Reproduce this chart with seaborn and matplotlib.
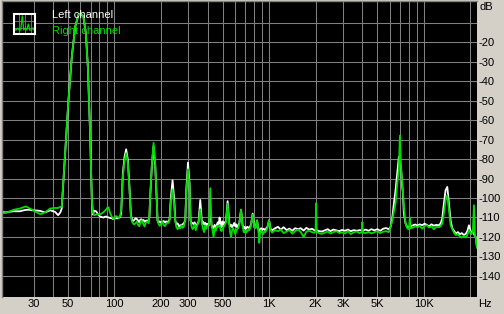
import matplotlib
matplotlib.use("Agg")
import matplotlib.pyplot as plt
import seaborn as sns
import pandas as pd
from matplotlib.ticker import FixedLocator, FixedFormatter, NullLocator
from matplotlib.patches import FancyBboxPatch

# ---------------- data ----------------
freqs = [
    18.75, 19.9, 21.1, 22.4, 24.5, 25.6, 26.8, 28.0, 29.3, 31.1, 33.0, 34.2, 35.6, 38.4, 41.3, 43.2, 44.6, 45.6,
    48.0, 50.4, 53.0, 55.7, 58.5, 60.5, 63.0, 65.3, 67.3, 69.6, 71.4, 72.5,
    74.0, 76.1, 78.5, 80.8, 82.8, 84.9, 86.8, 88.4, 90.0, 91.5, 93.5, 96.2, 98.0, 100, 102, 104.1, 106.5, 108.6, 110.5,
    113.3, 116.1, 119.0, 122.1, 125.0, 127.7,
    129.6, 132, 134.5, 137, 139.6, 142, 144.5, 146.7, 149, 151.5, 154.1, 156.5, 158.7, 162.8, 166,
    168.3, 170.2, 174.6, 178.9, 183.4, 188.1,
    189.8, 192, 196, 200, 204, 208, 212, 216, 220, 224, 227,
    231.7, 237.4, 243.5,
    247.2, 251, 256, 261, 266, 271, 276, 281,
    286.9, 291.2, 298.6, 305.8, 310.4,
    315, 320, 325, 330, 335, 340, 345, 349.8,
    358.6, 367.9,
    374, 380, 386, 392, 398, 403, 408.3,
    416.2, 424.4,
    430, 437, 444, 451, 458, 465, 472, 478, 485, 492, 499, 506, 514, 526,
    538.7, 552.5,
    560, 568, 576, 585, 594, 603, 612, 620, 630, 641,
    657.9, 673.8,
    684, 694, 704, 714, 724, 734, 744, 754, 763.7,
    781.9, 802, 818, 835.3, 851, 862, 874, 888, 902, 916, 930, 944, 958, 973.5, 998.6, 1022,
    1045, 1090, 1140, 1190, 1240, 1300, 1350, 1410, 1470, 1540, 1600, 1670, 1740, 1810, 1890, 1960, 1995, 2010, 2030,
    2100, 2190, 2290, 2390, 2490, 2600, 2720, 2840, 2960, 3090, 3230, 3370, 3520, 3680, 3840, 3970, 4000, 4030,
    4200, 4390, 4580, 4780, 5000, 5220, 5450, 5690, 5935,
    6087, 6245, 6396, 6560, 6729, 6892, 6996, 7143, 7250, 7315, 7425, 7614, 7809, 7997, 8118,
    8202, 8500, 8800, 9100, 9400, 9750, 10100, 10450, 10800, 11200, 11600, 12000, 12500, 12829,
    13152, 13470, 13815, 14170, 14513, 14885, 15266, 15700, 16100, 16600, 17100, 17600, 18100, 18600, 19100,
    19560, 20000, 20273, 20700, 21072, 21400, 21613, 22050,
]

left_db = [
    -107.2, -107.4, -107.0, -106.8, -106.8, -106.4, -106.1, -106.0, -106.3, -106.4, -106.6, -107.0, -107.4, -106.3, -107.1, -108.8, -107.5, -105.5,
    -77, -50, -27.5, -12.2, -6.0, -5.3, -7.0, -15.4, -32.7, -67, -101, -108.5,
    -106.5, -106.8, -108.5, -109.5, -109.8, -110.0, -109.6, -109.5, -109.8, -110.0, -110.2, -110.4, -110.8, -110.6, -110.3, -110.5, -110.2, -109.8, -108.0,
    -87.4, -79.0, -75.0, -80.6, -94.3, -108.5,
    -111.0, -111.8, -111.2, -110.4, -110.8, -111.6, -112.4, -111.2, -110.9, -111.6, -111.3, -112.2, -111.8, -111.5, -112.0,
    -109.5, -99.4, -83.0, -73.5, -83.5, -103.0,
    -111.5, -112.5, -112.0, -112.8, -112.2, -111.8, -112.6, -112.0, -112.4, -111.8, -111.0,
    -99.4, -90.9, -101.0,
    -111.5, -113.5, -113.0, -114.5, -114.0, -113.8, -113.5, -113.0,
    -111.5, -96.0, -81.8, -92.6, -111.5,
    -113.0, -112.8, -113.5, -112.5, -113.8, -114.2, -113.0, -112.0,
    -101.0, -113.0,
    -112.2, -113.5, -112.8, -114.0, -113.2, -113.5, -113.8,
    -106.5, -114.0,
    -114.5, -115.5, -113.8, -115.0, -114.0, -112.5, -113.5, -110.0, -112.8, -115.0, -112.0, -113.5, -112.6, -112.0,
    -101.6, -113.0,
    -114.5, -113.8, -115.0, -114.0, -112.8, -114.5, -113.5, -115.0, -114.0, -113.0,
    -106.0, -114.0,
    -115.5, -114.8, -116.0, -115.0, -114.8, -115.5, -115.0, -114.5, -113.5,
    -108.0, -115.0, -115.0, -111.5, -116.0, -117.5, -116.0, -115.5, -116.5, -115.8, -116.0, -116.8, -115.5, -115.0, -111.5, -116.0,
    -116.5, -115.6, -114.8, -116.2, -115.0, -116.5, -115.7, -116.8, -115.5, -116.0, -115.5, -116.7, -115.3, -116.2, -115.8, -116.5, -116.5, -116.3, -116.5,
    -117.0, -117.2, -116.6, -116.0, -117.0, -116.2, -116.6, -117.0, -116.4, -116.8, -116.2, -117.0, -116.5, -116.8, -116.5, -116.6, -116.8, -116.8,
    -116.2, -116.8, -116.0, -116.6, -116.0, -116.8, -115.8, -115.4, -116.0,
    -115.0, -110.5, -103.0, -96.0, -87.4, -78.9, -80.0, -86.0, -94.3, -97.0, -108.0, -113.0, -115.0, -114.8, -115.0,
    -114.5, -114.0, -113.6, -114.2, -113.5, -114.0, -113.2, -113.8, -114.5, -113.5, -114.2, -113.8, -114.0, -113.0,
    -110.5, -102.8, -96.0, -94.3, -102.8, -111.5, -115.6, -117.0, -118.2, -117.5, -118.6, -118.0, -119.0, -118.5, -117.0,
    -114.0, -116.5, -118.3, -117.5, -118.5, -119.5, -120.0, -125.2,
]

right_db = [
    -107.8, -107.6, -106.8, -106.0, -105.4, -104.8, -104.3, -105.2, -105.9, -107.2, -108.2, -108.0, -107.3, -105.4, -105.1, -105.1, -104.6, -104.5,
    -77, -50, -27.5, -12.2, -6.0, -5.3, -7.0, -15.4, -32.7, -67, -101, -107.5,
    -108.8, -108.5, -108.2, -108.5, -107.8, -107.3, -106.5, -105.8, -105.0, -104.8, -107.5, -109.7, -110.5, -110.8, -109.3, -109.5, -110.2, -109.5, -106.0,
    -89.0, -81.0, -77.0, -82.0, -95.5, -109.5,
    -112.0, -113.2, -113.5, -112.8, -112.0, -113.8, -114.5, -113.0, -111.5, -112.2, -113.4, -114.6, -113.0, -112.0, -113.0,
    -108.5, -99.0, -82.3, -71.7, -82.3, -102.8,
    -111.5, -113.0, -114.2, -113.5, -112.2, -113.8, -114.5, -113.2, -112.6, -112.8, -111.5,
    -101.5, -95.5, -103.5,
    -112.0, -114.8, -116.0, -115.2, -115.5, -114.0, -115.3, -114.5,
    -111.5, -97.5, -85.2, -94.0, -111.5,
    -114.5, -116.0, -115.0, -113.5, -116.5, -114.8, -113.5, -112.5,
    -105.8, -113.5,
    -116.0, -117.5, -114.0, -115.8, -114.5, -114.2, -114.0,
    -95.0, -114.5,
    -116.5, -120.0, -115.5, -116.8, -114.5, -115.0, -114.2, -113.8, -116.5, -117.0, -116.0, -115.0, -114.0, -112.5,
    -103.0, -114.0,
    -118.0, -120.0, -116.5, -115.5, -116.8, -118.5, -117.0, -116.0, -115.5, -113.5,
    -106.0, -114.5,
    -117.5, -116.5, -118.0, -116.8, -117.2, -116.0, -116.5, -115.5, -114.0,
    -108.5, -115.0, -115.5, -111.5, -116.5, -123.0, -118.0, -116.5, -117.8, -118.5, -117.0, -117.5, -116.5, -115.5, -111.5, -116.5,
    -117.8, -116.5, -117.0, -116.2, -118.0, -117.2, -116.5, -118.3, -117.0, -116.2, -117.5, -120.0, -117.2, -116.8, -117.5, -117.8, -117.0, -102.7, -117.5,
    -118.0, -118.4, -117.8, -117.2, -118.2, -117.5, -117.0, -118.0, -117.6, -118.2, -117.0, -118.5, -117.6, -117.2, -118.0, -117.5, -112.4, -117.8,
    -118.0, -117.4, -118.2, -117.6, -117.0, -118.0, -117.3, -117.0, -117.5,
    -114.8, -111.7, -107.0, -102.8, -92.6, -85.7, -68.0, -86.6, -92.0, -96.0, -104.5, -113.0, -115.6, -116.0, -110.0,
    -115.5, -115.2, -114.5, -115.0, -114.2, -115.8, -114.3, -114.0, -115.2, -114.5, -116.0, -114.8, -115.0, -114.5,
    -113.0, -108.0, -101.0, -98.6, -106.0, -114.0, -116.0, -118.0, -119.0, -118.6, -119.8, -120.3, -119.5, -120.3, -119.0,
    -116.6, -117.5, -118.3, -118.0, -103.7, -119.5, -120.0, -125.5,
]

channels = ["Left channel", "Right channel"]
line_colors = ["#ffffff", "#00dc00"]

grid_freqs = [30, 40, 50, 60, 70, 80, 90, 100, 200, 300, 400, 500, 600, 700, 800, 900,
              1000, 2000, 3000, 4000, 5000, 6000, 7000, 8000, 9000, 10000, 20000]
freq_labels = {30: "30", 50: "50", 100: "100", 200: "200", 300: "300", 500: "500",
               1000: "1K", 2000: "2K", 3000: "3K", 5000: "5K", 10000: "10K"}
db_ticks = [-140, -130, -120, -110, -100, -90, -80, -70, -60, -50, -40, -30, -20, -10]
icon_levels = [8, 8, 7, 8, 8, 1, 8, 7, 8, 5, 8, 8, 7, 8]

# ---------------- drawing ----------------
plt.rcParams["font.family"] = ["Liberation Sans", "DejaVu Sans"]
plt.rcParams["font.size"] = 8

W, H = 504, 314
BG = "#d4d0c8"
GRID = "#808080"

fig = plt.figure(figsize=(W / 100, H / 100), dpi=100, facecolor=BG)
ax = fig.add_axes([2 / W, 1 - 297 / H, 475 / W, 296 / H])
ax.set_facecolor("black")

n = len(freqs)
df = pd.DataFrame({
    "Hz": freqs + freqs,
    "dB": left_db + right_db,
    "channel": [channels[0]] * n + [channels[1]] * n,
})
sns.lineplot(data=df, x="Hz", y="dB", hue="channel", hue_order=channels,
             palette=dict(zip(channels, line_colors)), estimator=None, sort=False,
             linewidth=1.3, legend=False, ax=ax)

ax.set_xscale("log")
ax.set_xlim(18.75, 22050)
ax.set_ylim(-150.8, 1.1)

ax.xaxis.set_major_locator(FixedLocator(grid_freqs))
ax.xaxis.set_major_formatter(FixedFormatter([freq_labels.get(f, "") for f in grid_freqs]))
ax.xaxis.set_minor_locator(NullLocator())
ax.yaxis.set_major_locator(FixedLocator(db_ticks))
ax.yaxis.set_major_formatter(FixedFormatter(["" if v == -10 else str(v) for v in db_ticks]))
ax.yaxis.set_minor_locator(NullLocator())
ax.yaxis.tick_right()
ax.tick_params(axis="both", length=0, colors="black", labelsize=8)
ax.tick_params(axis="y", pad=1.2)
ax.tick_params(axis="x", pad=1.5)
ax.set_xlabel("")
ax.set_ylabel("")
ax.set_axisbelow(True)
ax.grid(True, color=GRID, linewidth=0.75)
for side in ["right", "bottom"]:
    ax.spines[side].set_visible(False)
for side in ["top", "left"]:
    ax.spines[side].set_color(GRID)
    ax.spines[side].set_linewidth(1.0)

fig.text(479 / W, 1 - 7.5 / H, "dB", ha="left", va="center", fontsize=8)
fig.text(478 / W, 1 - 304 / H, "Hz", ha="left", va="center", fontsize=8)

# legend
ax.text(52 / W * W / 475 - 2 / 475, 0, "", transform=ax.transAxes)
fig.text(52 / W, 1 - 14.5 / H, channels[0], color=line_colors[0], ha="left", va="center", fontsize=8)
fig.text(52 / W, 1 - 31 / H, channels[1], color=line_colors[1], ha="left", va="center", fontsize=8)

icon = fig.add_axes([14 / W, 1 - 34 / H, 21 / W, 20 / H])
icon.set_facecolor("black")
icon.plot(range(len(icon_levels)), [-v for v in icon_levels], color=line_colors[1], lw=0.9)
icon.set_xlim(-0.5, len(icon_levels) - 0.5)
icon.set_ylim(-10, 0)
icon.set_xticks([2.5, 6.5, 10.5])
icon.set_yticks([-7, -3.5])
icon.tick_params(length=0, labelbottom=False, labelleft=False)
icon.grid(True, color=GRID, lw=0.6)
icon.set_axisbelow(True)
for s in icon.spines.values():
    s.set_color("white")
    s.set_linewidth(1.5)

fig.savefig("out.png", dpi=100, facecolor=BG)
